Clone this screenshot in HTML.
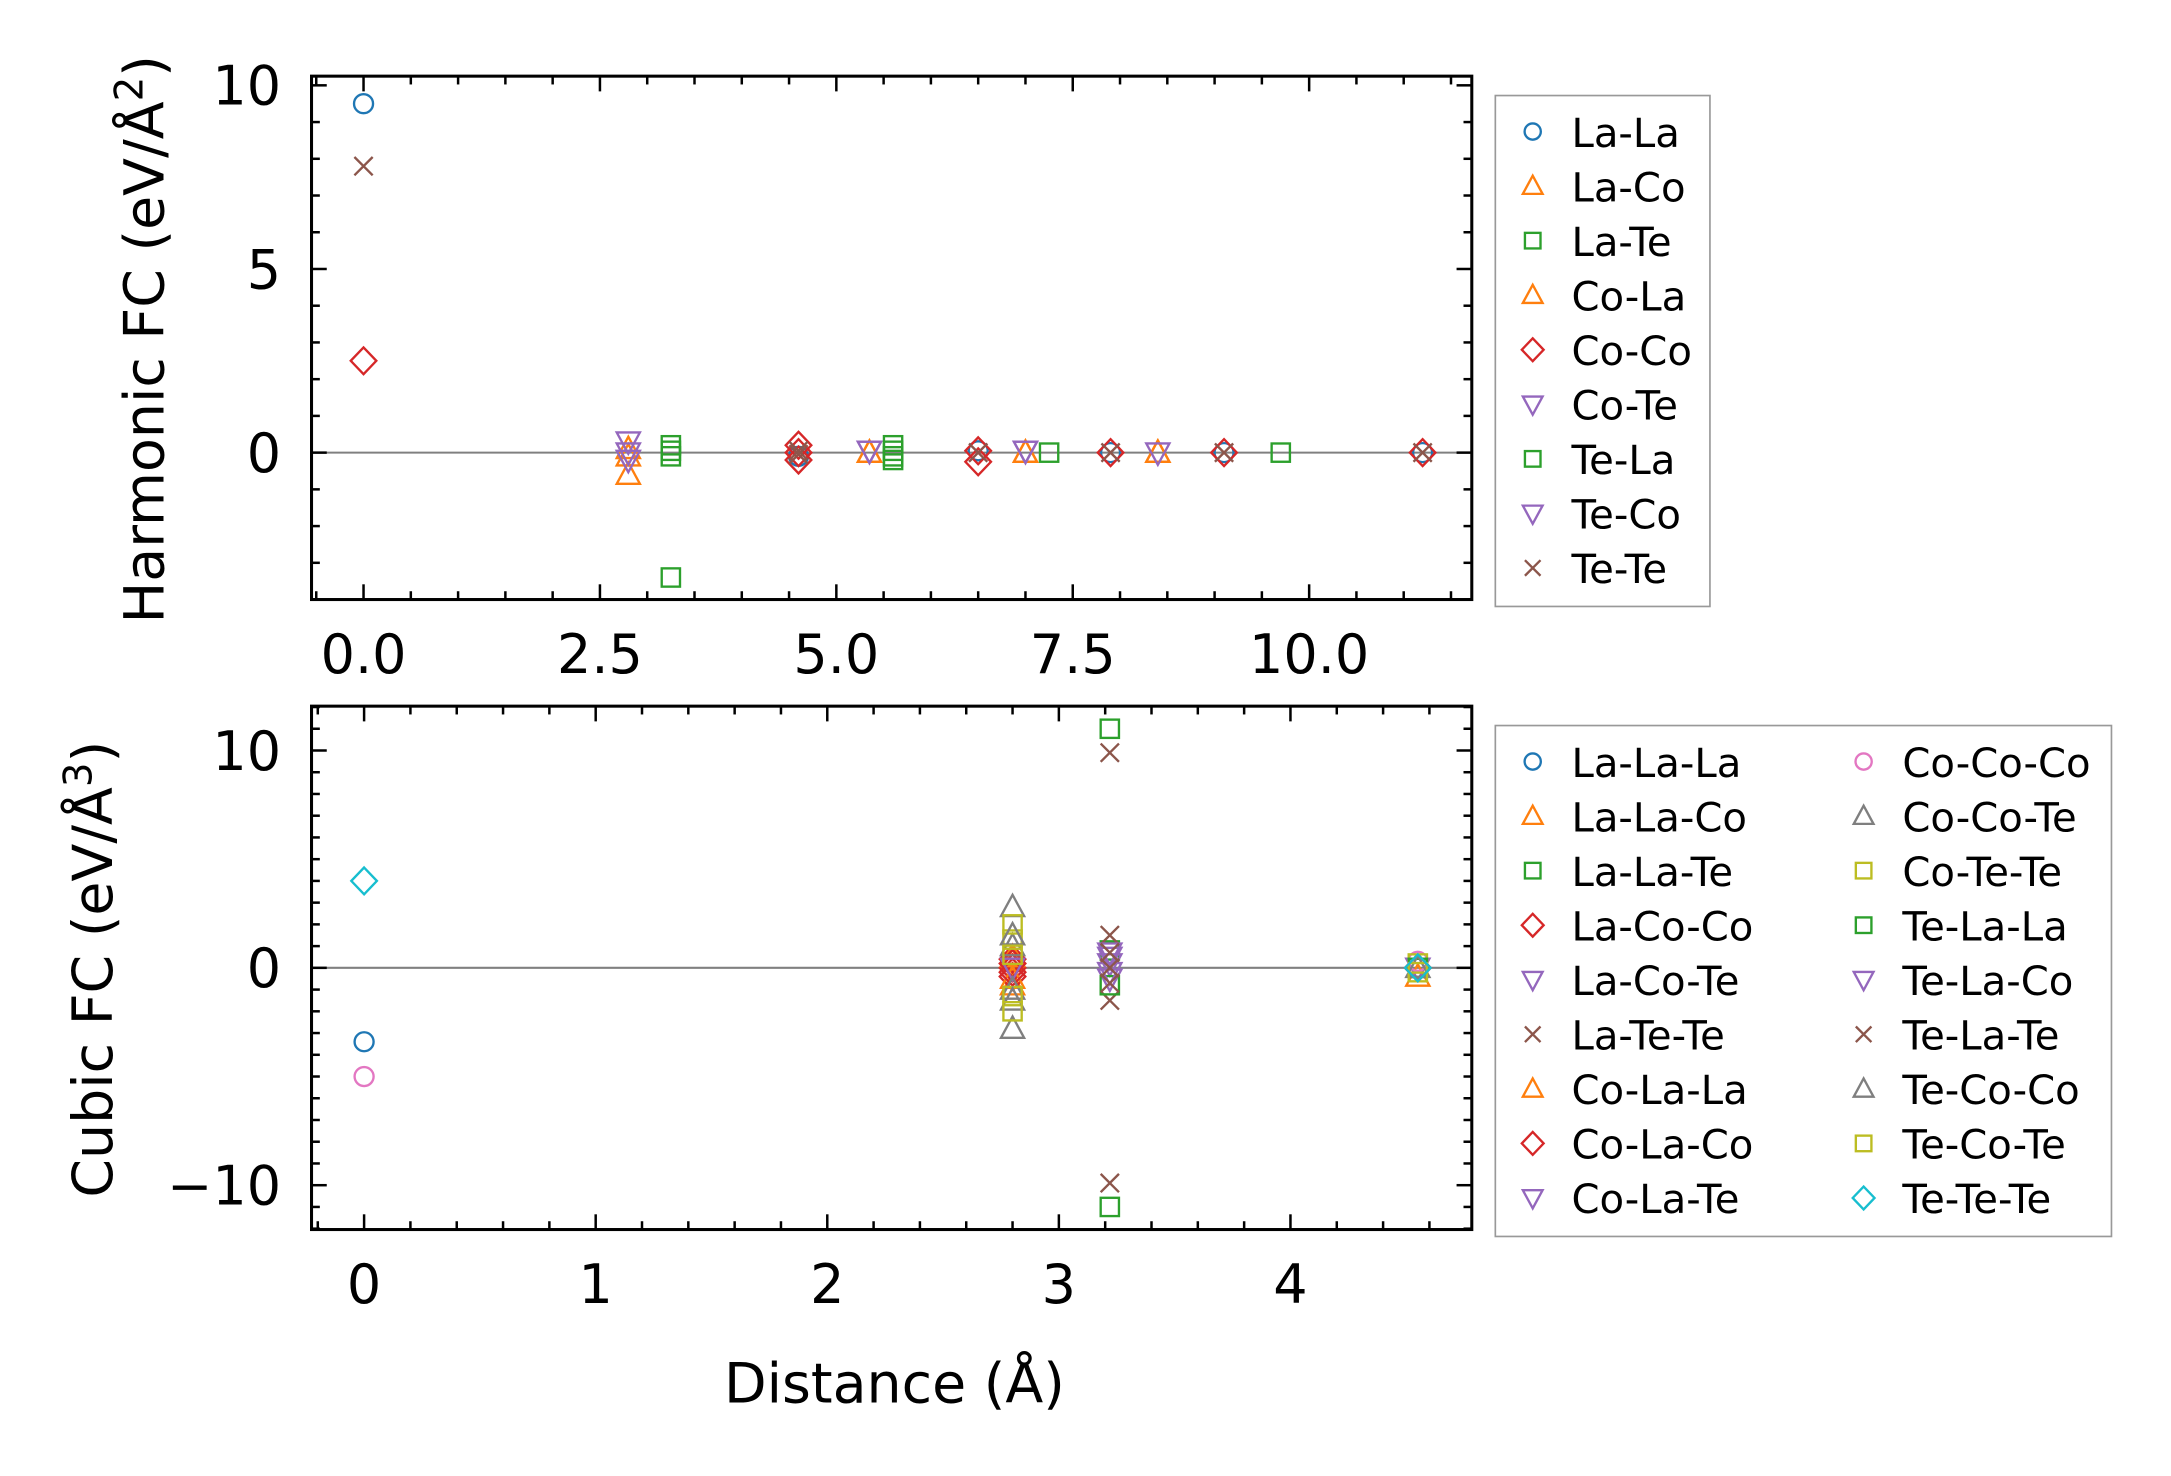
<!DOCTYPE html>
<html><head><meta charset="utf-8"><style>
html,body{margin:0;padding:0;background:#fff}
svg{display:block}
text{font-family:"DejaVu Sans","Liberation Sans",sans-serif;fill:#000}
</style></head><body>
<svg id="fig" width="2171" height="1476" viewBox="0 0 1568 1066" preserveAspectRatio="none" xmlns="http://www.w3.org/2000/svg">
<g id="top"></g>
<g id="bot"></g>
<g id="leg1"></g>
<g id="leg2"></g>
<text x="646" y="1013" font-size="40" text-anchor="middle">Distance (Å)</text>
<text transform="translate(118,245) rotate(-90)" font-size="40" text-anchor="middle">Harmonic FC (eV/Å<tspan font-size="28" dy="-15">2</tspan><tspan dy="15">)</tspan></text>
<text transform="translate(81,700) rotate(-90)" font-size="40" text-anchor="middle">Cubic FC (eV/Å<tspan font-size="28" dy="-15">3</tspan><tspan dy="15">)</tspan></text>
</svg>
<script>
// ---- Harmonic data ----
const hNames = ["La-La","La-Co","La-Te","Co-La","Co-Co","Co-Te","Te-La","Te-Co","Te-Te"];
const hMarkers = ["o","^","s","^","D","v","s","v","x"];
const hColors = ["#1f77b4","#ff7f0e","#2ca02c","#ff7f0e","#d62728","#9467bd","#2ca02c","#9467bd","#8c564b"];
const hLaLaX = [0, 4.6, 6.5, 7.9, 9.1, 11.2];
const hLaLaY = [9.5, -0.1, 0.05, 0, 0, 0];
const hLaCoX = [2.8, 2.8, 5.35, 7.0, 8.4];
const hLaCoY = [-0.6, 0.1, 0, 0, 0];
const hLaTeX = [3.25, 3.25, 5.6, 5.6, 7.25];
const hLaTeY = [0.2, -0.1, 0.2, -0.1, 0];
const hCoLaX = [2.8, 5.35, 7.0, 8.4];
const hCoLaY = [-0.1, 0, 0, 0];
const hCoCoX = [0, 4.6, 4.6, 4.6, 6.5, 6.5, 7.9, 9.1, 11.2];
const hCoCoY = [2.5, 0.2, -0.2, 0, 0.05, -0.25, 0, 0, 0];
const hCoTeX = [2.8, 2.8, 5.35, 7.0, 8.4];
const hCoTeY = [0.3, -0.2, 0.05, 0.05, 0];
const hTeLaX = [3.25, 5.6, 5.6, 9.7, 3.25];
const hTeLaY = [0.05, 0.05, -0.2, 0, -3.4];
const hTeCoX = [2.8, 5.35, 7.0];
const hTeCoY = [0.0, 0.05, 0.05];
const hTeTeX = [0, 4.6, 4.6, 6.5, 7.9, 9.1, 11.2];
const hTeTeY = [7.8, 0.05, -0.05, 0, 0, 0, 0];
const hXs = [hLaLaX,hLaCoX,hLaTeX,hCoLaX,hCoCoX,hCoTeX,hTeLaX,hTeCoX,hTeTeX];
const hYs = [hLaLaY,hLaCoY,hLaTeY,hCoLaY,hCoCoY,hCoTeY,hTeLaY,hTeCoY,hTeTeY];
const hXTicks = [0, 2.5, 5, 7.5, 10];
const hXTickLabels = ["0.0","2.5","5.0","7.5","10.0"];
const hYTicks = [0, 5, 10];
const hYTickLabels = ["0","5","10"];

// ---- Cubic data ----
const cNames = ["La-La-La","La-La-Co","La-La-Te","La-Co-Co","La-Co-Te","La-Te-Te","Co-La-La","Co-La-Co","Co-La-Te","Co-Co-Co","Co-Co-Te","Co-Te-Te","Te-La-La","Te-La-Co","Te-La-Te","Te-Co-Co","Te-Co-Te","Te-Te-Te"];
const cMarkers = ["o","^","s","D","v","x","^","D","v","o","^","s","s","v","x","^","s","D"];
const cColors = ["#1f77b4","#ff7f0e","#2ca02c","#d62728","#9467bd","#8c564b","#ff7f0e","#d62728","#9467bd","#e377c2","#7f7f7f","#bcbd22","#2ca02c","#9467bd","#8c564b","#7f7f7f","#bcbd22","#17becf"];
const cLaLaLaX = [0, 4.55]; const cLaLaLaY = [-3.4, 0];
const cLaLaCoX = [2.8, 2.8, 4.55]; const cLaLaCoY = [0.3, -0.8, -0.4];
const cLaLaTeX = [3.22, 3.22, 4.55]; const cLaLaTeY = [11, 0.8, 0];
const cLaCoCoX = [2.8, 2.8, 2.8, 4.55]; const cLaCoCoY = [0.4, 0, -0.4, 0];
const cLaCoTeX = [3.22, 3.22, 4.55]; const cLaCoTeY = [0.5, -0.5, 0];
const cLaTeTeX = [3.22, 3.22, 3.22]; const cLaTeTeY = [9.9, 1.5, -1.5];
const cCoLaLaX = [2.8, 2.8]; const cCoLaLaY = [0.5, -0.5];
const cCoLaCoX = [2.8, 2.8, 4.55]; const cCoLaCoY = [0.2, -0.2, 0];
const cCoLaTeX = [3.22, 2.8]; const cCoLaTeY = [0.2, 0];
const cCoCoCoX = [0, 4.55]; const cCoCoCoY = [-5, 0.3];
const cCoCoTeX = [2.8, 2.8, 2.8, 2.8]; const cCoCoTeY = [2.8, 1.0, -1.0, -2.8];
const cCoTeTeX = [2.8, 2.8, 2.8, 4.55]; const cCoTeTeY = [2.0, 1.3, -1.3, 0.2];
const cTeLaLaX = [3.22, 3.22, 4.55]; const cTeLaLaY = [-11, -0.8, 0];
const cTeLaCoX = [3.22, 3.22]; const cTeLaCoY = [0.7, -0.2];
const cTeLaTeX = [3.22, 3.22, 3.22, 3.22]; const cTeLaTeY = [-9.9, 0.7, -0.7, 0];
const cTeCoCoX = [2.8, 2.8, 4.55]; const cTeCoCoY = [1.5, -1.5, 0];
const cTeCoTeX = [2.8, 2.8, 4.55]; const cTeCoTeY = [-2.0, 0.6, -0.2];
const cTeTeTeX = [0, 4.55]; const cTeTeTeY = [4, 0];
const cXs = [cLaLaLaX,cLaLaCoX,cLaLaTeX,cLaCoCoX,cLaCoTeX,cLaTeTeX,cCoLaLaX,cCoLaCoX,cCoLaTeX,cCoCoCoX,cCoCoTeX,cCoTeTeX,cTeLaLaX,cTeLaCoX,cTeLaTeX,cTeCoCoX,cTeCoTeX,cTeTeTeX];
const cYs = [cLaLaLaY,cLaLaCoY,cLaLaTeY,cLaCoCoY,cLaCoTeY,cLaTeTeY,cCoLaLaY,cCoLaCoY,cCoLaTeY,cCoCoCoY,cCoCoTeY,cCoTeTeY,cTeLaLaY,cTeLaCoY,cTeLaTeY,cTeCoCoY,cTeCoTeY,cTeTeTeY];
const cXTicks = [0,1,2,3,4];
const cXTickLabels = ["0","1","2","3","4"];
const cYTicks = [-10,0,10];
const cYTickLabels = ["\u221210","0","10"];

const NS="http://www.w3.org/2000/svg";
function mk(tag, attrs, parent){const e=document.createElementNS(NS,tag);for(const k in attrs)e.setAttribute(k,attrs[k]);parent.appendChild(e);return e;}

function marker(g, m, cx, cy, col, s){
  let e;
  const sw=1.7;
  if(m==="o") e=mk("circle",{cx:cx,cy:cy,r:s*0.78,fill:"none",stroke:col,"stroke-width":sw},g);
  else if(m==="^") e=mk("polygon",{points:`${cx},${cy-s} ${cx-s*0.95},${cy+s*0.75} ${cx+s*0.95},${cy+s*0.75}`,fill:"none",stroke:col,"stroke-width":sw},g);
  else if(m==="v") e=mk("polygon",{points:`${cx},${cy+s} ${cx-s*0.95},${cy-s*0.75} ${cx+s*0.95},${cy-s*0.75}`,fill:"none",stroke:col,"stroke-width":sw},g);
  else if(m==="s") e=mk("rect",{x:cx-s*0.75,y:cy-s*0.75,width:s*1.5,height:s*1.5,fill:"none",stroke:col,"stroke-width":sw},g);
  else if(m==="D") e=mk("polygon",{points:`${cx},${cy-s*1.1} ${cx+s*1.05},${cy} ${cx},${cy+s*1.1} ${cx-s*1.05},${cy}`,fill:"none",stroke:col,"stroke-width":sw},g);
  else if(m==="x") e=mk("path",{d:`M${cx-s*0.75},${cy-s*0.75}L${cx+s*0.75},${cy+s*0.75}M${cx-s*0.75},${cy+s*0.75}L${cx+s*0.75},${cy-s*0.75}`,stroke:col,"stroke-width":sw},g);
  return e;
}

function panel(g, box, xr, yr, xTicks, xLabels, xMinor, yTicks, yLabels, yMinor, names, markers, colors, Xs, Ys){
  const sx=v=>box.l+(v-xr[0])/(xr[1]-xr[0])*(box.r-box.l);
  const sy=v=>box.b-(v-yr[0])/(yr[1]-yr[0])*(box.b-box.t);
  const zl=mk("line",{x1:box.l,x2:box.r,y1:sy(0),y2:sy(0),stroke:"#808080","stroke-width":1.5},g);
  
  
  for(let i=0;i<names.length;i++){
    const sg=mk("g",{},g);
    
    
    for(let j=0;j<Xs[i].length;j++){
      const p=marker(sg,markers[i],sx(Xs[i][j]),sy(Ys[i][j]),colors[i],8.8);
      
      
    }
  }
  const fr=mk("rect",{x:box.l,y:box.t,width:box.r-box.l,height:box.b-box.t,fill:"none",stroke:"#000","stroke-width":2.2},g);
  
  
  const tg=mk("g",{stroke:"#000","stroke-width":1.8},g);
  
  
  for(let v=xMinor[0]; v<=xMinor[1]+1e-9; v+=xMinor[2]){
    const x=sx(v); if(x<box.l-0.5||x>box.r+0.5) continue;
    const maj=xTicks.some(t=>Math.abs(t-v)<1e-6); const L=maj?11:6;
    mk("line",{x1:x,x2:x,y1:box.b,y2:box.b-L},tg); mk("line",{x1:x,x2:x,y1:box.t,y2:box.t+L},tg);
  }
  for(let v=yMinor[0]; v<=yMinor[1]+1e-9; v+=yMinor[2]){
    const y=sy(v); if(y<box.t-0.5||y>box.b+0.5) continue;
    const maj=yTicks.some(t=>Math.abs(t-v)<1e-6); const L=maj?11:6;
    mk("line",{x1:box.l,x2:box.l+L,y1:y,y2:y},tg); mk("line",{x1:box.r,x2:box.r-L,y1:y,y2:y},tg);
  }
  xTicks.forEach((t,i)=>{const e=mk("text",{x:sx(t),y:box.b+53,"font-size":39,"text-anchor":"middle"},g);e.textContent=xLabels[i];
    
    });
  yTicks.forEach((t,i)=>{const e=mk("text",{x:box.l-22,y:sy(t)+14,"font-size":39,"text-anchor":"end"},g);e.textContent=yLabels[i];
    
    });
}

panel(document.getElementById("top"),{l:225,r:1063,t:55,b:433},[-0.55,11.72],[-4.0,10.25],
  hXTicks,hXTickLabels,[-0.5,11.5,0.5],hYTicks,hYTickLabels,[-4,10,1],hNames,hMarkers,hColors,hXs,hYs);
panel(document.getElementById("bot"),{l:225,r:1063,t:510,b:888},[-0.227,4.783],[-12.04,12.04],
  cXTicks,cXTickLabels,[-0.2,4.8,0.2],cYTicks,cYTickLabels,[-12,12,1],cNames,cMarkers,cColors,cXs,cYs);

function legend(g, x0, y0, w, h, names, markers, colors, perCol){
  const b=mk("rect",{x:x0,y:y0,width:w,height:h,fill:"#fff",stroke:"#999","stroke-width":1.2},g);
  
  
  names.forEach((n,i)=>{
    const col=Math.floor(i/perCol), row=i%perCol;
    const mx=x0+27+col*239, my=y0+26+row*39.4;
    const eg=mk("g",{},g);
    
    
    marker(eg,markers[i],mx,my,colors[i],7.5);
    const t=mk("text",{x:mx+28,y:my+11,"font-size":29},eg); t.textContent=n;
  });
}
legend(document.getElementById("leg1"),1080,69,155,369,hNames,hMarkers,hColors,9);
legend(document.getElementById("leg2"),1080,524,445,369,cNames,cMarkers,cColors,9);
</script>
</body></html>
